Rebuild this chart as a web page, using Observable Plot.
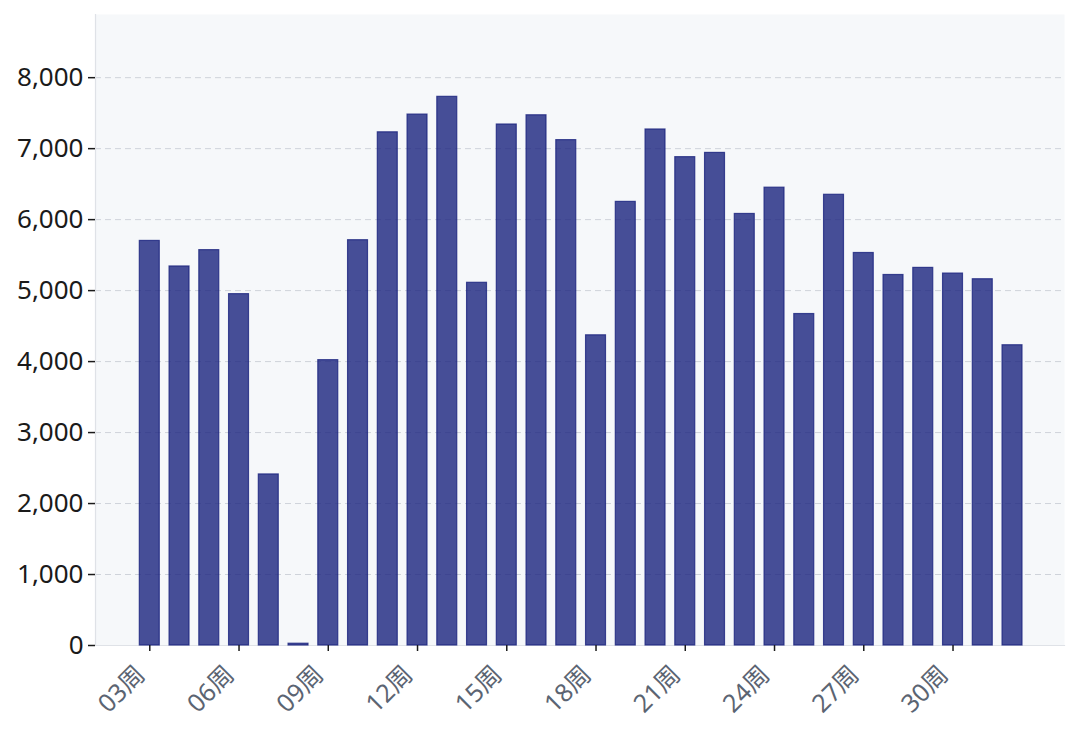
<!DOCTYPE html>
<html>
<head>
<meta charset="utf-8">
<script src="https://cdn.jsdelivr.net/npm/d3@7"></script>
<script src="https://cdn.jsdelivr.net/npm/@observablehq/plot@0.6"></script>
<style>
  html, body { margin: 0; padding: 0; background: #ffffff; }
  #chart { width: 1080px; height: 734px; }
</style>
</head>
<body>
<div id="chart"></div>
<script>
const weeks = ["03周","04周","05周","06周","07周","08周","09周","10周","11周","12周",
               "13周","14周","15周","16周","17周","18周","19周","20周","21周","22周",
               "23周","24周","25周","26周","27周","28周","29周","30周","31周","32周"];
const values = [5700, 5340, 5570, 4950, 2410, 25, 4020, 5710, 7230, 7480,
                7730, 5110, 7340, 7470, 7120, 4370, 6250, 7270, 6880, 6940,
                6080, 6450, 4670, 6350, 5530, 5220, 5320, 5240, 5160, 4230];
const yTicks = [0, 1000, 2000, 3000, 4000, 5000, 6000, 7000, 8000];
const xTickLabels = ["03周","06周","09周","12周","15周","18周","21周","24周","27周","30周"];

const data = weeks.map((w, i) => ({week: w, value: values[i]}));

const chart = Plot.plot({
  width: 1080,
  height: 734,
  marginLeft: 95,
  marginRight: 16,
  marginTop: 14,
  marginBottom: 89,
  style: {fontFamily: "'Noto Sans','Noto Sans CJK SC',sans-serif", background: "#ffffff"},
  x: {type: "band", domain: weeks, padding: 0.33, round: false, range: [129.5, 1031.8]},
  y: {domain: [0, 8890]},
  marks: [
    Plot.frame({fill: "#f6f8fa", stroke: null}),
    Plot.gridY(yTicks, {stroke: "#cfd3da", strokeOpacity: 1, strokeDasharray: "6,4", strokeWidth: 1}),
    Plot.frame({anchor: "left", stroke: "#dfe2e7", strokeWidth: 1.2}),
    Plot.frame({anchor: "bottom", stroke: "#dfe2e7", strokeWidth: 1.2}),
    Plot.barY(data, {x: "week", y: "value", fill: "#1a237e", fillOpacity: 0.8,
                     stroke: "#1a237e", strokeOpacity: 0.8, strokeWidth: 1.2}),
    Plot.axisY(yTicks, {tickSize: 7, tickPadding: 5, fontSize: 26, fill: "#1a1a1a", stroke: "#1a1a1a",
                        strokeWidth: 1.5, tickFormat: d3.format(","), label: null}),
    Plot.axisX(xTickLabels, {tickSize: 6, tickFormat: () => "", stroke: "#1a1a1a", strokeWidth: 1.5, label: null}),
    Plot.axisX(xTickLabels, {tickSize: 0, tickPadding: 12, tickRotate: -45, fontSize: 25,
                             dx: -9, dy: 13, fill: "#5b6472", label: null})
  ]
});
document.getElementById("chart").appendChild(chart);
</script>
</body>
</html>
